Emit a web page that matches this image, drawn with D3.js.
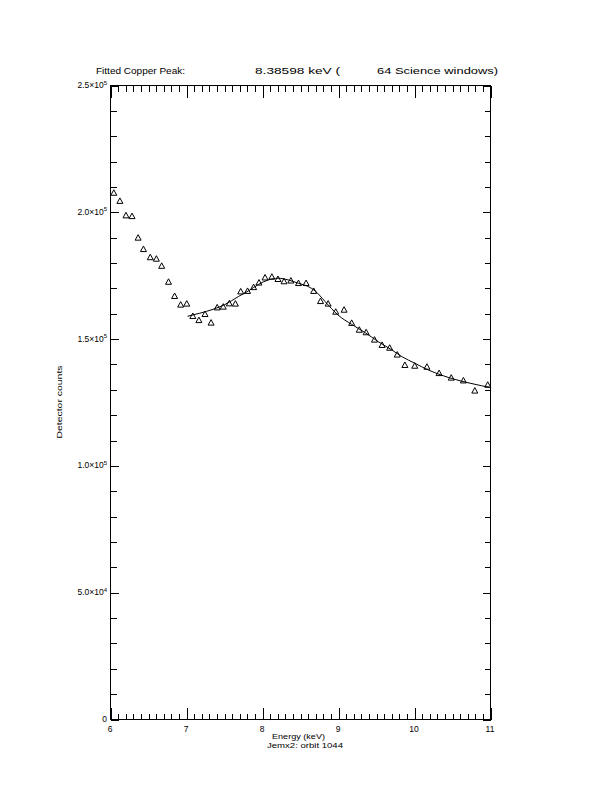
<!DOCTYPE html>
<html><head><meta charset="utf-8">
<script src="https://cdn.jsdelivr.net/npm/d3@7"></script>
<style>
body{margin:0;background:#fff}
svg{display:block;background:#fff}
text{font-family:"Liberation Sans",Arial,sans-serif;fill:#000}
</style>
</head><body>
<svg id="c" width="612" height="792"></svg>
<script>
// ---- data ----
const energy = [6.05,6.13,6.21,6.29,6.37,6.44,6.53,6.61,6.68,6.77,6.85,6.93,7.01,7.09,7.17,7.25,7.33,7.41,7.49,7.57,7.65,7.72,7.81,7.89,7.96,8.04,8.13,8.21,8.29,8.38,8.48,8.58,8.68,8.77,8.87,8.97,9.08,9.18,9.28,9.37,9.48,9.58,9.68,9.78,9.88,10.01,10.17,10.33,10.49,10.65,10.80,10.97];
const counts = [207500,204300,198600,198300,189800,185300,182100,181500,178700,172400,166800,163400,163800,158900,157300,159700,156300,162300,162600,163900,163800,168600,168800,170300,172100,174100,174400,173500,172600,172900,171900,171900,168800,164800,163800,160600,161400,156200,153500,152500,149600,147500,146400,143700,139600,139300,138900,136400,134600,133500,129500,131800];
const fitEnergy = [7.02,7.18,7.36,7.51,7.69,7.82,7.95,8.08,8.21,8.35,8.48,8.61,8.70,8.83,9.00,9.18,9.36,9.53,9.71,9.84,10.01,10.19,10.36,10.54,10.71,10.89,11.0];
const fitCounts = [158800,160000,161600,163400,166600,168800,171300,173100,173800,173100,171800,170500,168800,164600,159300,155600,152300,148800,145500,142900,140300,137600,135600,133900,132600,131400,130800];
const xTickValues = [6,7,8,9,10,11];
const xTickLabels = ["6","7","8","9","10","11"];
const yTickValues = [0,50000,100000,150000,200000,250000];
const yTickMantissa = ["0","5.0×10","1.0×10","1.5×10","2.0×10","2.5×10"];
const yTickExponent = ["","4","5","5","5","5"];
const titleParts = ["Fitted Copper Peak:","8.38598 keV (","64 Science windows)"];
const xTitle = "Energy (keV)";
const xSubtitle = "Jemx2: orbit 1044";
const yTitle = "Detector counts";

// ---- layout ----
const L = 110, R = 490, T = 85, B = 719;
const svg = d3.select("#c");
const x = d3.scaleLinear().domain([6, 11]).range([L, R]);
const y = d3.scaleLinear().domain([0, 250000]).range([B, T]);

const g = svg.append("g").attr("transform", "translate(0.5,0.5)");

// box
g.append("rect").attr("x", L).attr("y", T).attr("width", R - L).attr("height", B - T)
  .attr("fill", "none").attr("stroke", "#000").attr("stroke-width", 1)
  .attr("shape-rendering", "crispEdges");

function styleAxis(sel) {
  sel.select(".domain").remove();
  sel.selectAll("text").remove();
  sel.selectAll("line").attr("stroke", "#000").attr("shape-rendering", "crispEdges");
}
const xMinor = d3.range(60, 111).map(d => d / 10);
const yMinor = d3.range(0, 26).map(d => d * 10000);

// bottom / top minor + major
g.append("g").attr("transform", `translate(0,${B})`)
  .call(d3.axisBottom(x).tickValues(xMinor).tickSize(-6)).call(styleAxis);
g.append("g").attr("transform", `translate(0,${B})`)
  .call(d3.axisBottom(x).tickValues(xTickValues).tickSize(-12)).call(styleAxis);
g.append("g").attr("transform", `translate(0,${T})`)
  .call(d3.axisTop(x).tickValues(xMinor).tickSize(-6)).call(styleAxis);
g.append("g").attr("transform", `translate(0,${T})`)
  .call(d3.axisTop(x).tickValues(xTickValues).tickSize(-12)).call(styleAxis);
// left / right
g.append("g").attr("transform", `translate(${L},0)`)
  .call(d3.axisLeft(y).tickValues(yMinor).tickSize(-6)).call(styleAxis);
g.append("g").attr("transform", `translate(${L},0)`)
  .call(d3.axisLeft(y).tickValues(yTickValues).tickSize(-8)).call(styleAxis);
g.append("g").attr("transform", `translate(${R},0)`)
  .call(d3.axisRight(y).tickValues(yMinor).tickSize(-6)).call(styleAxis);
g.append("g").attr("transform", `translate(${R},0)`)
  .call(d3.axisRight(y).tickValues(yTickValues).tickSize(-8)).call(styleAxis);

// x tick labels
svg.append("g").selectAll("text").data(xTickValues).join("text")
  .attr("x", d => x(d)).attr("y", B + 13)
  .attr("text-anchor", "middle").attr("font-size", 8.5)
  .text((d, i) => xTickLabels[i]);

// y tick labels
const yl = svg.append("g").selectAll("text").data(yTickValues).join("text")
  .attr("x", L - 3).attr("y", d => y(d) + 3)
  .attr("text-anchor", "end").attr("font-size", 8.5);
yl.each(function (d, i) {
  const t = d3.select(this);
  t.append("tspan").text(yTickMantissa[i]);
  if (yTickExponent[i]) t.append("tspan").attr("dy", -3.5).attr("font-size", 6).text(yTickExponent[i]);
});

// titles
const titleX = [96, 255, 377];
const titleW = [89, 85, 121];
svg.append("g").selectAll("text").data(titleParts).join("text")
  .attr("x", (d, i) => titleX[i]).attr("y", 74)
  .attr("font-size", 9.5)
  .attr("textLength", (d, i) => titleW[i]).attr("lengthAdjust", "spacingAndGlyphs")
  .text(d => d);

svg.append("text").attr("x", 272).attr("y", 738.5).attr("font-size", 7)
  .attr("textLength", 53).attr("lengthAdjust", "spacingAndGlyphs").text(xTitle);
svg.append("text").attr("x", 267).attr("y", 747.5).attr("font-size", 7)
  .attr("textLength", 76).attr("lengthAdjust", "spacingAndGlyphs").text(xSubtitle);
svg.append("text").attr("transform", `translate(62,${(T + B) / 2}) rotate(-90)`)
  .attr("text-anchor", "middle").attr("font-size", 8)
  .attr("textLength", 73).attr("lengthAdjust", "spacingAndGlyphs").text(yTitle);

// fit curve
const line = d3.line().x((d, i) => x(fitEnergy[i])).y((d, i) => y(fitCounts[i])).curve(d3.curveMonotoneX);
svg.append("path").datum(fitEnergy).attr("d", line)
  .attr("fill", "none").attr("stroke", "#000").attr("stroke-width", 1);

// data points (triangles)
svg.append("g").selectAll("path").data(energy).join("path")
  .attr("transform", (d, i) => `translate(${x(d)},${y(counts[i])})`)
  .attr("d", "M0,-3L3,2.5L-3,2.5Z")
  .attr("fill", "none").attr("stroke", "#000").attr("stroke-width", 1);
</script>
</body></html>
